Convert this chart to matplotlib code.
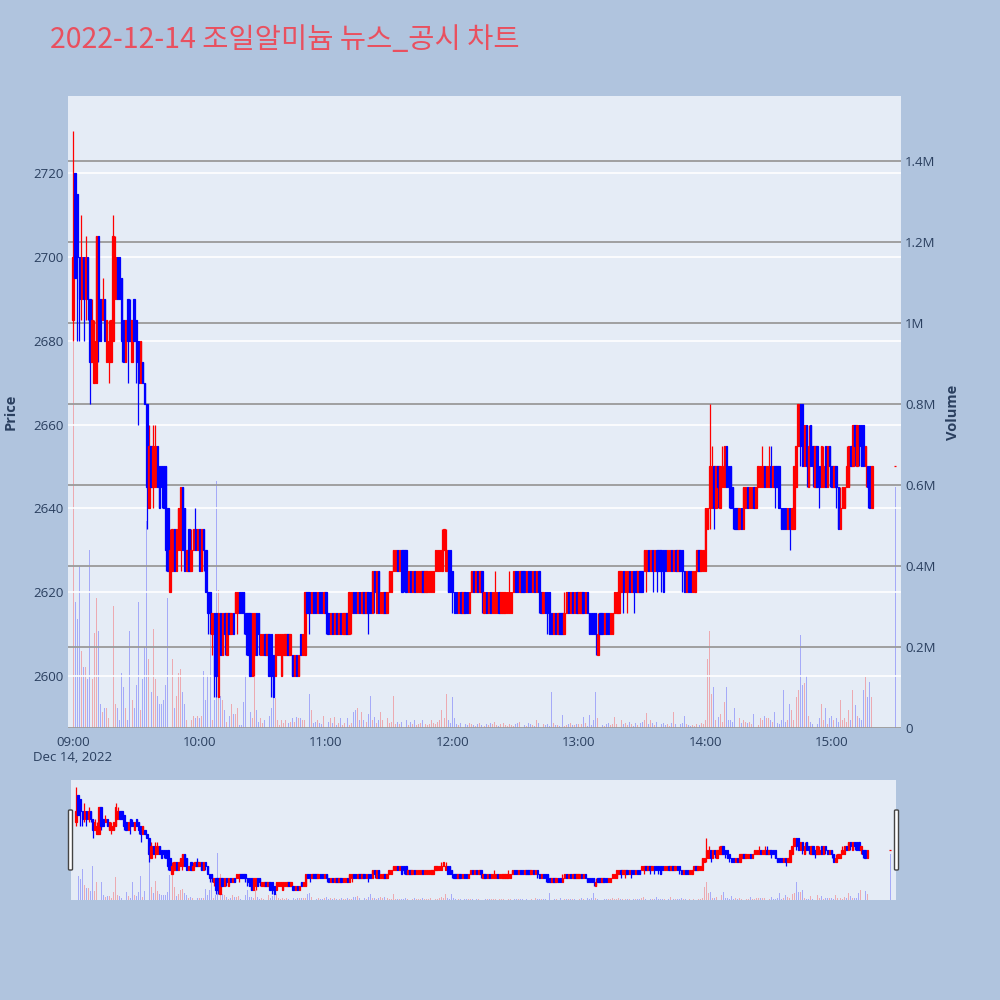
import matplotlib
matplotlib.use("Agg")
import matplotlib.pyplot as plt
import matplotlib.dates as mdates
from matplotlib.ticker import FixedLocator, FuncFormatter
from matplotlib.patches import FancyBboxPatch
import numpy as np
import pandas as pd

plt.rcParams['font.family'] = ['Open Sans', 'Noto Sans CJK KR', 'DejaVu Sans']

# ---------------- data (1-minute candles, 09:00-15:19 + 15:30 close) ----------------
times = pd.date_range('2022-12-14 09:00', '2022-12-14 15:19', freq='min').append(
    pd.DatetimeIndex(['2022-12-14 15:30']))

opens = [
    2685, 2720, 2715, 2700, 2690, 2700, 2690, 2700, 2690, 2675,
    2670, 2670, 2705, 2690, 2685, 2690, 2675, 2675, 2675, 2680,
    2690, 2700, 2700, 2695, 2685, 2675, 2690, 2685, 2675, 2690,
    2685, 2680, 2670, 2675, 2670, 2665, 2640, 2655, 2645, 2645,
    2655, 2650, 2650, 2650, 2650, 2640, 2620, 2625, 2635, 2625,
    2630, 2630, 2645, 2640, 2625, 2635, 2625, 2630, 2635, 2630,
    2635, 2625, 2635, 2630, 2620, 2620, 2610, 2615, 2615, 2595,
    2615, 2605, 2615, 2605, 2615, 2610, 2615, 2615, 2615, 2620,
    2620, 2620, 2615, 2615, 2615, 2600, 2605, 2615, 2615, 2605,
    2605, 2610, 2605, 2610, 2610, 2605, 2600, 2605, 2605, 2600,
    2605, 2605, 2610, 2605, 2605, 2600, 2605, 2600, 2610, 2605,
    2605, 2620, 2620, 2615, 2620, 2620, 2615, 2620, 2620, 2615,
    2620, 2615, 2610, 2615, 2610, 2615, 2610, 2615, 2610, 2610,
    2615, 2610, 2615, 2620, 2620, 2615, 2620, 2615, 2620, 2615,
    2620, 2620, 2615, 2625, 2615, 2625, 2615, 2615, 2620, 2615,
    2620, 2620, 2625, 2625, 2630, 2625, 2630, 2630, 2630, 2620,
    2625, 2620, 2625, 2620, 2620, 2620, 2625, 2620, 2620, 2620,
    2620, 2620, 2625, 2625, 2625, 2625, 2630, 2625, 2630, 2630,
    2625, 2620, 2620, 2615, 2620, 2615, 2620, 2620, 2615, 2620,
    2625, 2620, 2625, 2620, 2625, 2615, 2620, 2615, 2620, 2615,
    2615, 2615, 2620, 2615, 2615, 2615, 2615, 2615, 2615, 2620,
    2625, 2625, 2620, 2625, 2625, 2620, 2625, 2625, 2620, 2625,
    2620, 2625, 2620, 2615, 2620, 2620, 2620, 2615, 2610, 2615,
    2610, 2615, 2615, 2610, 2615, 2620, 2615, 2620, 2615, 2620,
    2615, 2615, 2620, 2615, 2620, 2615, 2615, 2615, 2615, 2605,
    2615, 2615, 2610, 2615, 2615, 2610, 2610, 2615, 2615, 2615,
    2620, 2625, 2620, 2620, 2625, 2620, 2625, 2625, 2620, 2625,
    2625, 2625, 2625, 2630, 2625, 2630, 2625, 2630, 2630, 2630,
    2630, 2630, 2625, 2625, 2630, 2625, 2630, 2625, 2630, 2630,
    2625, 2620, 2625, 2625, 2620, 2620, 2625, 2630, 2625, 2625,
    2625, 2635, 2640, 2640, 2650, 2640, 2650, 2640, 2645, 2645,
    2655, 2650, 2650, 2645, 2640, 2640, 2635, 2640, 2635, 2640,
    2645, 2640, 2640, 2645, 2640, 2645, 2645, 2645, 2650, 2645,
    2645, 2650, 2645, 2650, 2650, 2650, 2640, 2640, 2640, 2635,
    2640, 2635, 2635, 2645, 2655, 2665, 2665, 2650, 2660, 2645,
    2660, 2655, 2645, 2655, 2650, 2645, 2645, 2655, 2645, 2655,
    2650, 2645, 2650, 2645, 2635, 2640, 2640, 2645, 2645, 2655,
    2650, 2660, 2650, 2660, 2660, 2660, 2650, 2650, 2650, 2640,
    2650]

highs = [
    2730, 2720, 2715, 2700, 2710, 2700, 2705, 2700, 2690, 2690,
    2685, 2705, 2705, 2690, 2695, 2690, 2685, 2685, 2685, 2710,
    2705, 2700, 2700, 2695, 2685, 2685, 2690, 2690, 2685, 2690,
    2685, 2680, 2680, 2675, 2670, 2665, 2660, 2655, 2660, 2660,
    2655, 2650, 2650, 2650, 2650, 2640, 2635, 2635, 2635, 2635,
    2640, 2645, 2645, 2640, 2630, 2635, 2635, 2635, 2640, 2635,
    2635, 2635, 2635, 2630, 2620, 2620, 2615, 2615, 2615, 2615,
    2615, 2615, 2615, 2615, 2615, 2615, 2615, 2620, 2620, 2620,
    2620, 2620, 2615, 2615, 2615, 2615, 2615, 2615, 2615, 2610,
    2610, 2610, 2610, 2610, 2610, 2605, 2610, 2610, 2610, 2610,
    2610, 2610, 2610, 2610, 2605, 2605, 2605, 2605, 2610, 2610,
    2620, 2620, 2620, 2620, 2620, 2620, 2620, 2620, 2620, 2620,
    2620, 2615, 2615, 2615, 2615, 2615, 2615, 2615, 2615, 2615,
    2615, 2620, 2620, 2620, 2620, 2620, 2620, 2620, 2620, 2620,
    2620, 2620, 2625, 2625, 2625, 2625, 2620, 2620, 2620, 2620,
    2625, 2625, 2630, 2630, 2630, 2630, 2630, 2630, 2630, 2625,
    2625, 2625, 2625, 2625, 2625, 2625, 2625, 2625, 2625, 2625,
    2625, 2625, 2630, 2630, 2630, 2635, 2635, 2635, 2630, 2630,
    2625, 2620, 2620, 2620, 2620, 2620, 2620, 2620, 2620, 2625,
    2625, 2625, 2625, 2625, 2625, 2620, 2620, 2620, 2620, 2620,
    2625, 2620, 2620, 2620, 2620, 2620, 2620, 2625, 2620, 2625,
    2625, 2625, 2625, 2625, 2625, 2625, 2625, 2625, 2625, 2625,
    2625, 2625, 2620, 2620, 2620, 2620, 2620, 2615, 2615, 2615,
    2615, 2615, 2615, 2620, 2620, 2620, 2620, 2620, 2620, 2620,
    2620, 2620, 2620, 2620, 2620, 2615, 2615, 2615, 2615, 2615,
    2615, 2615, 2615, 2615, 2615, 2615, 2615, 2620, 2620, 2625,
    2625, 2625, 2625, 2625, 2625, 2625, 2625, 2625, 2625, 2625,
    2625, 2630, 2630, 2630, 2630, 2630, 2630, 2630, 2630, 2630,
    2630, 2630, 2630, 2630, 2630, 2630, 2630, 2630, 2630, 2630,
    2625, 2625, 2625, 2625, 2625, 2625, 2630, 2630, 2630, 2630,
    2640, 2640, 2665, 2655, 2650, 2650, 2650, 2650, 2655, 2655,
    2655, 2650, 2650, 2645, 2640, 2640, 2640, 2640, 2645, 2645,
    2645, 2645, 2645, 2645, 2645, 2650, 2650, 2655, 2650, 2650,
    2655, 2655, 2650, 2650, 2650, 2650, 2640, 2640, 2640, 2640,
    2640, 2640, 2650, 2655, 2665, 2665, 2665, 2660, 2660, 2660,
    2660, 2655, 2655, 2655, 2650, 2655, 2655, 2655, 2655, 2655,
    2650, 2650, 2650, 2645, 2645, 2645, 2645, 2655, 2655, 2655,
    2660, 2660, 2660, 2660, 2660, 2660, 2655, 2650, 2650, 2650,
    2650]

lows = [
    2680, 2695, 2680, 2680, 2685, 2680, 2685, 2685, 2665, 2675,
    2670, 2670, 2675, 2680, 2685, 2680, 2675, 2670, 2675, 2680,
    2690, 2690, 2690, 2675, 2675, 2675, 2670, 2680, 2675, 2680,
    2670, 2660, 2670, 2670, 2665, 2635, 2640, 2645, 2640, 2645,
    2645, 2640, 2640, 2640, 2625, 2625, 2620, 2625, 2625, 2625,
    2630, 2625, 2630, 2625, 2625, 2625, 2625, 2630, 2630, 2630,
    2625, 2625, 2625, 2620, 2610, 2610, 2605, 2595, 2595, 2595,
    2605, 2605, 2605, 2605, 2610, 2610, 2610, 2615, 2610, 2615,
    2615, 2610, 2605, 2605, 2600, 2600, 2600, 2605, 2605, 2605,
    2605, 2605, 2605, 2600, 2595, 2595, 2600, 2605, 2605, 2600,
    2605, 2605, 2605, 2605, 2600, 2600, 2600, 2600, 2605, 2605,
    2605, 2615, 2610, 2615, 2615, 2615, 2615, 2615, 2615, 2615,
    2610, 2610, 2610, 2610, 2610, 2610, 2610, 2610, 2610, 2610,
    2610, 2610, 2610, 2615, 2615, 2615, 2615, 2615, 2615, 2615,
    2610, 2615, 2615, 2615, 2615, 2615, 2615, 2615, 2615, 2615,
    2620, 2620, 2625, 2625, 2625, 2625, 2620, 2620, 2620, 2620,
    2620, 2620, 2620, 2620, 2620, 2620, 2620, 2620, 2620, 2620,
    2620, 2620, 2625, 2625, 2625, 2625, 2630, 2625, 2620, 2620,
    2615, 2615, 2615, 2615, 2615, 2615, 2615, 2615, 2615, 2620,
    2620, 2620, 2620, 2620, 2615, 2615, 2615, 2615, 2615, 2615,
    2615, 2615, 2615, 2615, 2615, 2615, 2615, 2615, 2615, 2620,
    2620, 2620, 2620, 2620, 2620, 2620, 2620, 2620, 2620, 2620,
    2620, 2615, 2615, 2615, 2615, 2610, 2610, 2610, 2610, 2610,
    2610, 2610, 2610, 2610, 2615, 2615, 2615, 2615, 2615, 2615,
    2615, 2615, 2615, 2615, 2615, 2610, 2610, 2610, 2605, 2605,
    2610, 2610, 2610, 2610, 2610, 2610, 2610, 2615, 2615, 2615,
    2620, 2615, 2620, 2615, 2620, 2620, 2615, 2620, 2620, 2620,
    2620, 2625, 2620, 2625, 2625, 2620, 2625, 2620, 2625, 2620,
    2620, 2625, 2625, 2625, 2625, 2625, 2625, 2625, 2625, 2620,
    2620, 2620, 2620, 2620, 2620, 2620, 2625, 2625, 2625, 2625,
    2625, 2635, 2635, 2640, 2635, 2640, 2640, 2640, 2645, 2645,
    2645, 2640, 2640, 2635, 2635, 2635, 2635, 2635, 2635, 2640,
    2640, 2640, 2640, 2640, 2640, 2645, 2645, 2645, 2645, 2645,
    2645, 2645, 2645, 2640, 2645, 2640, 2635, 2635, 2635, 2635,
    2630, 2635, 2635, 2645, 2655, 2650, 2650, 2650, 2645, 2645,
    2650, 2645, 2645, 2645, 2640, 2645, 2645, 2645, 2645, 2645,
    2645, 2645, 2640, 2635, 2635, 2640, 2640, 2645, 2645, 2650,
    2650, 2650, 2650, 2650, 2650, 2650, 2645, 2640, 2640, 2640,
    2650]

closes = [
    2700, 2695, 2700, 2690, 2700, 2690, 2700, 2690, 2675, 2685,
    2680, 2705, 2680, 2680, 2690, 2680, 2685, 2680, 2685, 2705,
    2700, 2690, 2690, 2680, 2675, 2685, 2680, 2680, 2685, 2680,
    2675, 2670, 2680, 2670, 2665, 2645, 2655, 2645, 2655, 2655,
    2645, 2640, 2645, 2640, 2630, 2625, 2630, 2635, 2625, 2635,
    2640, 2645, 2630, 2625, 2630, 2625, 2630, 2635, 2630, 2635,
    2625, 2635, 2630, 2620, 2615, 2615, 2615, 2600, 2600, 2615,
    2605, 2615, 2610, 2615, 2610, 2615, 2610, 2620, 2620, 2615,
    2615, 2615, 2610, 2605, 2600, 2615, 2615, 2605, 2610, 2610,
    2610, 2605, 2610, 2600, 2600, 2595, 2610, 2610, 2610, 2610,
    2610, 2610, 2605, 2610, 2600, 2605, 2600, 2605, 2605, 2610,
    2620, 2615, 2615, 2620, 2615, 2615, 2620, 2615, 2615, 2620,
    2615, 2610, 2615, 2610, 2615, 2610, 2615, 2610, 2615, 2615,
    2610, 2620, 2620, 2615, 2615, 2620, 2615, 2620, 2615, 2620,
    2615, 2615, 2625, 2620, 2625, 2615, 2620, 2620, 2615, 2620,
    2625, 2625, 2630, 2630, 2625, 2630, 2620, 2625, 2620, 2625,
    2620, 2625, 2620, 2625, 2625, 2625, 2620, 2625, 2625, 2625,
    2625, 2625, 2630, 2630, 2630, 2630, 2635, 2630, 2620, 2620,
    2620, 2615, 2615, 2620, 2615, 2620, 2615, 2615, 2620, 2625,
    2620, 2625, 2620, 2625, 2620, 2620, 2615, 2620, 2615, 2620,
    2620, 2620, 2615, 2620, 2620, 2620, 2620, 2620, 2620, 2625,
    2620, 2620, 2625, 2620, 2620, 2625, 2620, 2620, 2625, 2620,
    2625, 2620, 2615, 2620, 2615, 2615, 2610, 2610, 2615, 2610,
    2615, 2610, 2610, 2615, 2620, 2615, 2620, 2615, 2620, 2615,
    2620, 2620, 2615, 2620, 2615, 2610, 2610, 2610, 2610, 2610,
    2610, 2610, 2615, 2610, 2610, 2615, 2615, 2620, 2620, 2625,
    2625, 2620, 2625, 2625, 2620, 2625, 2620, 2620, 2625, 2620,
    2620, 2630, 2630, 2625, 2630, 2625, 2630, 2625, 2625, 2625,
    2620, 2625, 2630, 2630, 2625, 2630, 2625, 2630, 2625, 2625,
    2620, 2625, 2620, 2620, 2625, 2625, 2630, 2625, 2630, 2630,
    2640, 2640, 2650, 2650, 2640, 2650, 2645, 2650, 2650, 2655,
    2645, 2645, 2640, 2640, 2635, 2635, 2640, 2635, 2645, 2645,
    2640, 2645, 2645, 2640, 2645, 2650, 2650, 2650, 2645, 2650,
    2650, 2645, 2650, 2645, 2645, 2640, 2635, 2635, 2635, 2640,
    2635, 2640, 2650, 2655, 2665, 2655, 2650, 2660, 2650, 2655,
    2650, 2650, 2655, 2645, 2645, 2655, 2650, 2645, 2655, 2650,
    2645, 2650, 2645, 2635, 2640, 2645, 2645, 2650, 2655, 2650,
    2660, 2655, 2660, 2655, 2650, 2650, 2655, 2645, 2640, 2650,
    2650]

# volume in thousands of shares
volume_k = [
    1100, 310, 270, 400, 190, 150, 150, 120, 440, 120,
    235, 320, 240, 60, 40, 50, 50, 25, 110, 300,
    60, 50, 20, 135, 100, 50, 20, 240, 70, 50,
    105, 310, 45, 120, 200, 510, 170, 90, 245, 120,
    80, 60, 60, 70, 105, 320, 335, 170, 50, 80,
    135, 145, 90, 60, 20, 40, 20, 30, 25, 30,
    25, 30, 140, 70, 130, 280, 20, 70, 610, 340,
    80, 70, 45, 15, 30, 60, 35, 35, 50, 8,
    8, 65, 130, 45, 40, 25, 130, 45, 15, 25,
    12, 20, 60, 30, 50, 80, 75, 20, 8, 20,
    12, 20, 12, 15, 25, 15, 28, 25, 25, 20,
    20, 75, 85, 45, 12, 15, 20, 12, 10, 30,
    45, 15, 25, 12, 28, 8, 12, 25, 8, 12,
    25, 8, 12, 40, 45, 50, 20, 40, 20, 15,
    35, 80, 20, 28, 12, 20, 40, 20, 45, 25,
    12, 15, 80, 10, 15, 10, 15, 12, 20, 8,
    15, 10, 20, 8, 10, 12, 20, 10, 8, 10,
    20, 12, 10, 15, 20, 45, 25, 83, 20, 12,
    77, 25, 10, 8, 12, 6, 10, 8, 12, 10,
    8, 6, 10, 12, 8, 6, 10, 8, 12, 10,
    15, 8, 6, 10, 12, 8, 6, 10, 8, 6,
    10, 12, 15, 10, 8, 6, 12, 10, 8, 6,
    20, 12, 10, 10, 8, 10, 6, 90, 12, 8,
    8, 6, 32, 6, 8, 10, 12, 8, 8, 10,
    10, 10, 28, 12, 6, 32, 8, 20, 90, 25,
    12, 8, 6, 10, 12, 8, 10, 28, 10, 8,
    20, 10, 12, 8, 15, 10, 6, 12, 8, 12,
    15, 20, 36, 10, 20, 12, 8, 15, 36, 10,
    12, 8, 10, 6, 12, 40, 10, 8, 10, 12,
    30, 10, 8, 6, 8, 6, 10, 8, 12, 10,
    20, 170, 240, 85, 100, 20, 28, 35, 15, 65,
    100, 20, 20, 15, 50, 15, 25, 12, 20, 15,
    12, 15, 10, 35, 10, 8, 25, 20, 30, 25,
    25, 20, 15, 40, 12, 10, 20, 94, 15, 20,
    60, 45, 20, 77, 94, 230, 106, 110, 128, 30,
    15, 10, 50, 10, 25, 60, 20, 50, 10, 25,
    30, 20, 25, 15, 70, 20, 25, 15, 45, 20,
    95, 57, 30, 25, 20, 94, 125, 77, 114, 76,
    595]

price_ticks = [2600, 2620, 2640, 2660, 2680, 2700, 2720]
volume_ticks = [0, 200000, 400000, 600000, 800000, 1000000, 1200000, 1400000]
volume_tick_labels = ['0', '0.2M', '0.4M', '0.6M', '0.8M', '1M', '1.2M', '1.4M']
title = '2022-12-14 조일알미늄 뉴스_공시 차트'

# ---------------- styling ----------------
PAPER = '#B0C4DE'
PLOT_BG = '#E5ECF6'
TICK_C = '#2a3f5f'
UP, DOWN = '#FF0000', '#0000FF'

x = mdates.date2num(times.to_pydatetime())
o = np.array(opens, float); h = np.array(highs, float)
l = np.array(lows, float); c = np.array(closes, float)
vol = np.array(volume_k, float) * 1000
cand_col = np.where(c >= o, UP, DOWN)
vol_col = np.where(c > o, UP, DOWN)
MIN = 1.0 / 1440.0
PRICE_LIM = (2587.6, 2738.4)
VOL_LIM = (0, 1.56e6)
XLIM = (x[0] - 2.4 * MIN, x[0] + 392.8 * MIN)


def draw(ax_p, ax_v, lw):
    ax_v.bar(x, vol, width=0.45 * MIN, color=vol_col, alpha=0.28, linewidth=0)
    ax_p.vlines(x, l, h, colors=cand_col, linewidth=lw, zorder=3)
    ax_p.bar(x, np.abs(c - o), width=0.65 * MIN, bottom=np.minimum(o, c),
             color=cand_col, edgecolor=cand_col, linewidth=lw, zorder=3)


fig = plt.figure(figsize=(10, 10), dpi=100)
fig.patch.set_facecolor(PAPER)

# main panel
axv = fig.add_axes([0.068, 0.272, 0.833, 0.632])
axp = axv.twinx()
axv.yaxis.tick_right(); axv.yaxis.set_label_position('right')
axp.yaxis.tick_left(); axp.yaxis.set_label_position('left')
axv.set_facecolor(PLOT_BG)
axp.set_zorder(axv.get_zorder() + 1)
axp.patch.set_visible(False)

draw(axp, axv, 0.9)

axp.set_ylim(*PRICE_LIM)
axv.set_ylim(*VOL_LIM)
axv.set_xlim(*XLIM)

axp.yaxis.set_major_locator(FixedLocator(price_ticks))
axp.grid(True, axis='y', color='white', linewidth=1.2, zorder=0)
axp.set_axisbelow(True)
axv.yaxis.set_major_locator(FixedLocator(volume_ticks))
axv.yaxis.set_major_formatter(FuncFormatter(
    lambda v, p: volume_tick_labels[volume_ticks.index(int(round(v)))] if int(round(v)) in volume_ticks else ''))
axv.grid(True, axis='y', color='#9a9a9a', linewidth=1.3)
axv.grid(False, axis='x')

axv.xaxis.set_major_locator(mdates.HourLocator())


def xfmt(v, pos):
    d = mdates.num2date(v)
    s = d.strftime('%H:%M')
    if d.hour == 9:
        s += '\n' + d.strftime('%b %d, %Y').replace(' 0', ' ')
    return s


axv.xaxis.set_major_formatter(FuncFormatter(xfmt))
for a in (axp, axv):
    for s in a.spines.values():
        s.set_visible(False)
    a.tick_params(length=0, labelsize=9.5, labelcolor=TICK_C)
axv.tick_params(axis='x', pad=6)
axv.tick_params(axis='y', pad=3)
axp.tick_params(axis='y', pad=3)
for t in axv.get_xticklabels():
    t.set_multialignment('center')

fig.text(0.011, 0.588, 'Price', rotation=90, ha='center', va='center',
         fontsize=10.5, fontweight='bold', color=TICK_C)
fig.text(0.953, 0.588, 'Volume', rotation=90, ha='center', va='center',
         fontsize=10.5, fontweight='bold', color=TICK_C)

fig.text(0.05, 0.960, title, ha='left', va='center', fontsize=20.5,
         color='#E9505F', family=['Noto Sans CJK KR', 'DejaVu Sans'])

# range slider
sv = fig.add_axes([0.071, 0.100, 0.825, 0.120])
sp = sv.twinx()
sv.set_facecolor(PLOT_BG)
sp.set_zorder(sv.get_zorder() + 1)
sp.patch.set_visible(False)
draw(sp, sv, 0.9)
sp.set_ylim(*PRICE_LIM)
sv.set_ylim(*VOL_LIM)
sv.set_xlim(*XLIM)
for a in (sp, sv):
    a.set_xticks([]); a.set_yticks([])
    for s in a.spines.values():
        s.set_visible(False)

for gx in (0.0685, 0.8945):
    fig.patches.append(FancyBboxPatch((gx, 0.130), 0.004, 0.060,
                                      boxstyle='round,pad=0,rounding_size=0.001',
                                      transform=fig.transFigure, facecolor='white',
                                      edgecolor='#444444', linewidth=1.0))

fig.savefig('out.png', dpi=100, facecolor=PAPER)
